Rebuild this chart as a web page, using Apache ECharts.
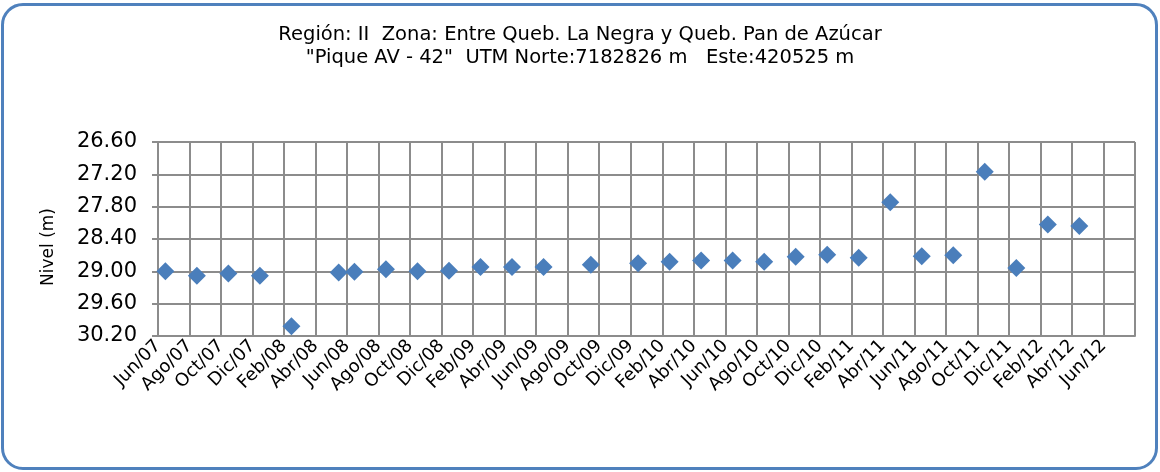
<!DOCTYPE html>
<html>
<head>
<meta charset="utf-8">
<script src="https://cdn.jsdelivr.net/npm/echarts@6/dist/echarts.min.js"></script>
<style>
  html, body { margin: 0; padding: 0; background: #fff; }
  #wrap { position: relative; width: 1160px; height: 472px; }
  #chart { position: absolute; left: 0; top: 0; width: 1160px; height: 472px; }
  #frame {
    position: absolute; left: 1px; top: 3px; width: 1157px; height: 467px;
    box-sizing: border-box; border: 3px solid #4f81bd; border-radius: 22px;
    pointer-events: none;
  }
</style>
</head>
<body>
<div id="wrap">
  <div id="chart"></div>
  <div id="frame"></div>
</div>
<script>
// Measurement dates (dd/mm/yyyy) and static water level (m below reference)
const measureDates = [
  '15/06/2007', '15/08/2007', '15/10/2007', '15/12/2007', '15/02/2008',
  '15/05/2008', '15/06/2008', '15/08/2008', '15/10/2008', '15/12/2008',
  '15/02/2009', '15/04/2009', '15/06/2009', '15/09/2009', '15/12/2009',
  '15/02/2010', '15/04/2010', '15/06/2010', '15/08/2010', '15/10/2010',
  '15/12/2010', '15/02/2011', '15/04/2011', '15/06/2011', '15/08/2011',
  '15/10/2011', '15/12/2011', '15/02/2012', '15/04/2012'
];
const levels = [
  29.00, 29.08, 29.04, 29.08, 30.02,
  29.02, 29.01, 28.96, 29.00, 28.99,
  28.92, 28.92, 28.92, 28.88, 28.85,
  28.82, 28.80, 28.80, 28.82, 28.73,
  28.69, 28.75, 27.72, 28.72, 28.70,
  27.15, 28.94, 28.13, 28.16
];

// Axis tick labels, one every two months starting Jun/07
const tickLabels = [
  'Jun/07', 'Ago/07', 'Oct/07', 'Dic/07', 'Feb/08', 'Abr/08',
  'Jun/08', 'Ago/08', 'Oct/08', 'Dic/08', 'Feb/09', 'Abr/09',
  'Jun/09', 'Ago/09', 'Oct/09', 'Dic/09', 'Feb/10', 'Abr/10',
  'Jun/10', 'Ago/10', 'Oct/10', 'Dic/10', 'Feb/11', 'Abr/11',
  'Jun/11', 'Ago/11', 'Oct/11', 'Dic/11', 'Feb/12', 'Abr/12',
  'Jun/12'
];

const titleLines = [
  'Región: II  Zona: Entre Queb. La Negra y Queb. Pan de Azúcar',
  '"Pique AV - 42"  UTM Norte:7182826 m   Este:420525 m'
];

// x is measured in months elapsed since 1 June 2007
const START_YEAR = 2007, START_MONTH = 6;
function monthsSinceStart(s) {
  const [d, m, y] = s.split('/').map(Number);
  return (y - START_YEAR) * 12 + (m - START_MONTH) + (d - 1) / 30;
}
const points = measureDates.map((s, i) => [monthsSinceStart(s), levels[i]]);

const FONT = 'DejaVu Sans';
const GRID = '#8c8c8c';

const chart = echarts.init(document.getElementById('chart'), null, { renderer: 'canvas' });
chart.setOption({
  animation: false,
  backgroundColor: 'transparent',
  title: {
    text: titleLines.join('\n'),
    left: 'center',
    top: 18,
    textStyle: { fontFamily: FONT, fontSize: 19.5, fontWeight: 'normal', color: '#000', lineHeight: 23 }
  },
  grid: { left: 158, right: 25, top: 142, bottom: 136 },
  xAxis: {
    type: 'value',
    min: 0,
    max: tickLabels.length * 2,
    interval: 2,
    axisLine: { show: true, lineStyle: { color: GRID, width: 2 } },
    axisTick: { show: false },
    splitLine: { show: true, lineStyle: { color: GRID, width: 2 } },
    axisLabel: {
      rotate: 45,
      margin: 7,
      fontFamily: FONT,
      fontSize: 18,
      color: '#000',
      showMaxLabel: true,
      formatter: v => tickLabels[Math.round(v / 2)] || ''
    }
  },
  yAxis: {
    type: 'value',
    inverse: true,
    min: 26.6,
    max: 30.2,
    interval: 0.6,
    name: 'Nivel (m)',
    nameLocation: 'middle',
    nameRotate: 90,
    nameGap: 101,
    nameTextStyle: { fontFamily: FONT, fontSize: 17, color: '#000', padding: [0, 16, 0, 0] },
    axisLine: { show: true, lineStyle: { color: GRID, width: 2 } },
    axisTick: { show: true, length: 6, lineStyle: { color: GRID, width: 2 } },
    splitLine: { show: true, lineStyle: { color: GRID, width: 2 } },
    axisLabel: {
      margin: 21,
      fontFamily: FONT,
      fontSize: 21,
      color: '#000',
      formatter: v => v.toFixed(2)
    }
  },
  series: [{
    type: 'scatter',
    data: points,
    symbol: 'diamond',
    symbolSize: 18,
    itemStyle: { color: '#4a7ebb', opacity: 1 }
  }]
});
</script>
</body>
</html>
